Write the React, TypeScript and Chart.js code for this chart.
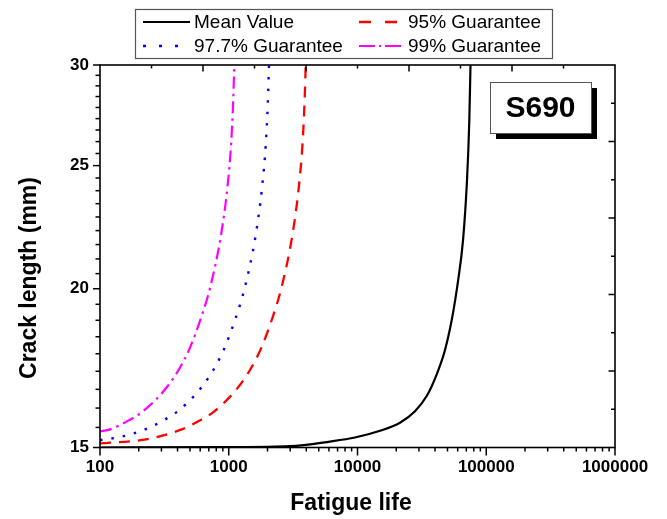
import { useEffect, useRef } from 'react';
import { Chart, registerables } from 'chart.js';

Chart.register(...registerables);

const FONT = "'Liberation Sans', Arial, sans-serif";

// Fatigue life (cycles) and crack length (mm) for each curve
const meanLife = [100, 987, 2990, 6115, 9563, 14960, 21380, 27960, 34660, 41450, 47820, 54200, 60350, 66000, 70870, 73830, 75450];
const meanCrack = [15.0, 15.008, 15.035, 15.163, 15.273, 15.46, 15.69, 16.02, 16.48, 17.15, 17.9, 18.95, 20.28, 21.83, 24.34, 27.1, 30];

const g95Life = [100, 207, 286, 431, 595, 764, 1054, 1330, 1577, 1803, 2195, 2555, 3111, 3494, 3740, 3877, 3961];
const g95Crack = [15.11, 15.2, 15.3, 15.5, 15.75, 16, 16.5, 17, 17.5, 18, 19, 20, 22, 24, 26, 28, 30];

const g977Life = [100, 148, 224, 309, 396, 547, 690, 818, 935, 1138, 1326, 1614, 1812, 1940, 2011, 2054];
const g977Crack = [15.2, 15.3, 15.5, 15.75, 16, 16.5, 17, 17.5, 18, 19, 20, 22, 24, 26, 28, 30];

const g99Life = [100, 120, 166, 213, 294, 371, 440, 503, 612, 713, 868, 975, 1043, 1081, 1104];
const g99Crack = [15.44, 15.5, 15.75, 16, 16.5, 17, 17.5, 18, 19, 20, 22, 24, 26, 28, 30];

const seriesLabels = ['Mean Value', '95% Guarantee', '97.7% Guarantee', '99% Guarantee'];

// Axis tick labels and titles
const xMajorTicks = [100, 1000, 10000, 100000, 1000000];
const yMajorTicks = [15, 20, 25, 30];
const xTitle = 'Fatigue life';
const yTitle = 'Crack length (mm)';

const gradeLabel = 'S690';

const toPoints = (life: number[], crack: number[]) => life.map((n, i) => ({ x: n, y: crack[i] }));

const line = (ctx: CanvasRenderingContext2D, x1: number, y1: number, x2: number, y2: number) => {
  ctx.beginPath();
  ctx.moveTo(x1, y1);
  ctx.lineTo(x2, y2);
  ctx.stroke();
};

// Frame plus all tick marks (log ticks bottom/left, plain divisions top/right)
const frameTicksPlugin = {
  id: 'frameTicks',
  afterDatasetsDraw(chart: any) {
    const { ctx, chartArea, scales } = chart;
    const { left, right, top, bottom } = chartArea;
    ctx.save();
    ctx.strokeStyle = '#000';
    ctx.lineWidth = 1.5;
    ctx.lineCap = 'butt';

    const xs = scales.x;
    xMajorTicks.forEach((v, i) => {
      const p = xs.getPixelForValue(v);
      line(ctx, p, bottom, p, bottom + 8);
      if (i < xMajorTicks.length - 1) {
        for (let m = 2; m <= 9; m++) {
          const q = xs.getPixelForValue(v * m);
          line(ctx, q, bottom, q, bottom + 4);
        }
      }
    });

    const ys = scales.y;
    yMajorTicks.forEach((v, i) => {
      const p = ys.getPixelForValue(v);
      line(ctx, left, p, left - 7, p);
      if (i < yMajorTicks.length - 1) {
        const next = yMajorTicks[i + 1];
        for (let k = 1; k <= 8; k++) {
          const q = ys.getPixelForValue(v + ((next - v) * k) / 9);
          line(ctx, left, q, left - 4.5, q);
        }
      }
    });

    const xt = scales.xTop;
    for (let k = 1; k <= 9; k++) {
      const p = xt.getPixelForValue(k);
      line(ctx, p, top, p, top + (k % 2 === 0 ? 6.5 : 3.5));
    }
    const yr = scales.yRight;
    for (let k = 1; k <= 9; k++) {
      const p = yr.getPixelForValue(k);
      line(ctx, right, p, right - (k % 2 === 0 ? 6.5 : 4), p);
    }

    ctx.lineWidth = 1.6;
    ctx.strokeRect(left, top, right - left, bottom - top);
    ctx.restore();
  },
};

// Axis titles
const axisTitlesPlugin = {
  id: 'axisTitles',
  afterDraw(chart: any) {
    const { ctx, chartArea } = chart;
    ctx.save();
    ctx.fillStyle = '#000';
    ctx.font = `bold 23px ${FONT}`;
    ctx.textAlign = 'center';
    ctx.textBaseline = 'middle';
    ctx.fillText(xTitle, chartArea.left + 251, 504);
    ctx.translate(30, chartArea.top + 213);
    ctx.rotate(-Math.PI / 2);
    ctx.fillText(yTitle, 0, 0);
    ctx.restore();
  },
};

// Two-column boxed legend above the plot
const boxLegendPlugin = {
  id: 'boxLegend',
  afterDraw(chart: any) {
    const { ctx } = chart;
    ctx.save();
    ctx.strokeStyle = '#555';
    ctx.lineWidth = 1.2;
    ctx.strokeRect(135.5, 9.5, 417, 49);
    const slots = [
      [143, 190, 194, 22],
      [359, 403, 408, 22],
      [143, 190, 194, 46],
      [359, 403, 408, 46],
    ];
    ctx.font = `19px ${FONT}`;
    ctx.textBaseline = 'middle';
    ctx.textAlign = 'left';
    chart.data.datasets.forEach((ds: any, i: number) => {
      const [x1, x2, tx, y] = slots[i];
      ctx.save();
      ctx.strokeStyle = ds.borderColor;
      ctx.lineWidth = ds.borderWidth;
      ctx.setLineDash(ds.legendDash || []);
      line(ctx, x1, y, x2, y);
      ctx.restore();
      ctx.fillStyle = '#000';
      ctx.fillText(ds.label, tx, y + 1);
    });
    ctx.restore();
  },
};

// Steel grade tag with drop shadow in the upper right of the plot
const gradeTagPlugin = {
  id: 'gradeTag',
  afterDraw(chart: any) {
    const { ctx, chartArea } = chart;
    const w = 101;
    const h = 51;
    const x = chartArea.right - 125;
    const y = chartArea.top + 17;
    ctx.save();
    ctx.fillStyle = '#000';
    ctx.fillRect(x + 6, y + 6, w, h);
    ctx.fillStyle = '#fff';
    ctx.fillRect(x, y, w, h);
    ctx.strokeStyle = '#555';
    ctx.lineWidth = 1;
    ctx.strokeRect(x + 0.5, y + 0.5, w, h);
    ctx.fillStyle = '#000';
    ctx.font = `bold 30px ${FONT}`;
    ctx.textAlign = 'center';
    ctx.textBaseline = 'middle';
    ctx.fillText(gradeLabel, x + w / 2, y + h / 2 + 1);
    ctx.restore();
  },
};

export default function App() {
  const canvasRef = useRef<HTMLCanvasElement | null>(null);

  useEffect(() => {
    if (!canvasRef.current) return;
    const common = { pointRadius: 0, fill: false, cubicInterpolationMode: 'monotone' as const };
    const tickFont = { family: FONT, size: 17, weight: 'bold' as const };
    const chart = new Chart(canvasRef.current, {
      type: 'line',
      data: {
        datasets: [
          { ...common, label: seriesLabels[0], data: toPoints(meanLife, meanCrack), borderColor: '#000000', borderWidth: 2.2, borderDash: [], legendDash: [] } as any,
          { ...common, label: seriesLabels[1], data: toPoints(g95Life, g95Crack), borderColor: '#ff0000', borderWidth: 2.3, borderDash: [11, 8], legendDash: [12, 14] } as any,
          { ...common, label: seriesLabels[2], data: toPoints(g977Life, g977Crack), borderColor: '#0000ff', borderWidth: 2.4, borderDash: [2.5, 9], legendDash: [3, 13] } as any,
          { ...common, label: seriesLabels[3], data: toPoints(g99Life, g99Crack), borderColor: '#ff00ff', borderWidth: 2.2, borderDash: [12, 5, 2.5, 5], legendDash: [16, 4, 2, 4] } as any,
        ],
      },
      options: {
        responsive: false,
        animation: false,
        events: [],
        layout: { padding: { top: 65, right: 52, left: 0, bottom: 0 } },
        plugins: { legend: { display: false }, tooltip: { enabled: false } },
        scales: {
          x: {
            type: 'logarithmic',
            position: 'bottom',
            min: 100,
            max: 1000000,
            afterBuildTicks: (s: any) => {
              s.ticks = xMajorTicks.map((v) => ({ value: v }));
            },
            afterFit: (s: any) => {
              s.height = 71.5;
            },
            grid: { display: false, drawTicks: false },
            border: { display: false },
            ticks: {
              callback: (v: any) => String(v),
              font: tickFont,
              color: '#000',
              padding: 10,
              maxRotation: 0,
              autoSkip: false,
            },
          },
          y: {
            type: 'logarithmic',
            position: 'left',
            min: 15,
            max: 30,
            afterBuildTicks: (s: any) => {
              s.ticks = yMajorTicks.map((v) => ({ value: v }));
            },
            afterFit: (s: any) => {
              s.width = 100;
            },
            grid: { display: false, drawTicks: false },
            border: { display: false },
            ticks: {
              callback: (v: any) => String(v),
              font: tickFont,
              color: '#000',
              padding: 11,
              autoSkip: false,
            },
          },
          xTop: { type: 'linear', position: 'top', min: 0, max: 10, display: false },
          yRight: { type: 'linear', position: 'right', min: 0, max: 10, display: false },
        },
      } as any,
      plugins: [frameTicksPlugin, axisTitlesPlugin, boxLegendPlugin, gradeTagPlugin],
    });
    return () => chart.destroy();
  }, []);

  return (
    <div style={{ position: 'fixed', left: 0, top: 0, width: 667, height: 519, background: '#fff' }}>
      <canvas ref={canvasRef} width={667} height={519} style={{ display: 'block' }} />
    </div>
  );
}
